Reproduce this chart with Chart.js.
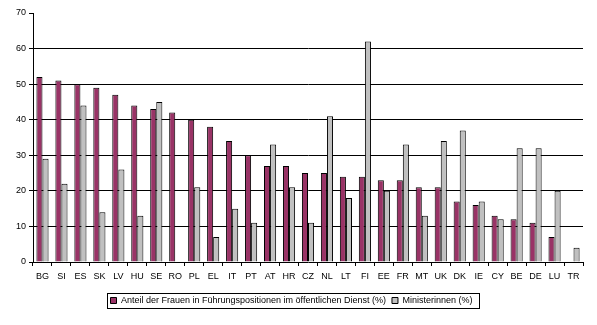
<!DOCTYPE html>
<html lang="de">
<head>
  <meta charset="UTF-8">
  <title>Frauen in Führungspositionen</title>
  <script src="https://cdn.jsdelivr.net/npm/chart.js"></script>
  <style>
    html, body {
      margin: 0;
      padding: 0;
      background: #ffffff;
    }
  </style>
</head>
<body>

<canvas id="womenChart" width="597" height="325"></canvas>

<script>
  const countries = ['BG', 'SI', 'ES', 'SK', 'LV', 'HU', 'SE', 'RO', 'PL', 'EL', 'IT', 'PT', 'AT', 'HR', 'CZ',
    'NL', 'LT', 'FI', 'EE', 'FR', 'MT', 'UK', 'DK', 'IE', 'CY', 'BE', 'DE', 'LU', 'TR'];

  // Anteil der Frauen in Führungspositionen im öffentlichen Dienst (%)
  const publicService = [52, 51, 50, 49, 47, 44, 43, 42, 40, 38, 34, 30, 27, 27, 25,
    25, 24, 24, 23, 23, 21, 21, 17, 16, 13, 12, 11, 7, null];

  // Ministerinnen (%)
  const ministers = [29, 22, 44, 14, 26, 13, 45, null, 21, 7, 15, 11, 33, 21, 11,
    41, 18, 62, 20, 33, 13, 34, 37, 17, 12, 32, 32, 20, 4];

  const yTicks = [0, 10, 20, 30, 40, 50, 60, 70];

  const FONT = { family: 'Arial, "Liberation Sans", sans-serif', size: 9 };

  // thin black frame around the legend entries
  const legendFrame = {
    id: 'legendFrame',
    afterDraw(chart) {
      const boxes = chart.legend && chart.legend.legendHitBoxes;
      if (!boxes || !boxes.length) return;
      let left = Infinity, right = -Infinity, top = Infinity, bottom = -Infinity;
      boxes.forEach(b => {
        left = Math.min(left, b.left);
        right = Math.max(right, b.left + b.width);
        top = Math.min(top, b.top);
        bottom = Math.max(bottom, b.top + b.height);
      });
      const ctx = chart.ctx;
      ctx.save();
      ctx.strokeStyle = '#000';
      ctx.lineWidth = 1;
      ctx.strokeRect(Math.round(left - 4) + 0.5, Math.round(top - 3) + 0.5,
        Math.round(right - left + 10), Math.round(bottom - top + 6));
      ctx.restore();
    }
  };

  new Chart(document.getElementById('womenChart').getContext('2d'), {
    type: 'bar',
    data: {
      labels: countries,
      datasets: [
        {
          label: 'Anteil der Frauen in Führungspositionen im öffentlichen Dienst (%)',
          data: publicService,
          backgroundColor: '#993366',
          borderColor: '#000000',
          borderWidth: 1,
          categoryPercentage: 0.64,
          barPercentage: 1.0
        },
        {
          label: 'Ministerinnen (%)',
          data: ministers,
          backgroundColor: '#c0c0c0',
          borderColor: '#000000',
          borderWidth: 1,
          categoryPercentage: 0.64,
          barPercentage: 1.0
        }
      ]
    },
    options: {
      responsive: false,
      maintainAspectRatio: false,
      animation: false,
      devicePixelRatio: 1,
      layout: {
        padding: { left: 0, right: 14, top: 13, bottom: 10 }
      },
      plugins: {
        tooltip: { enabled: false },
        legend: {
          position: 'bottom',
          labels: {
            color: '#000',
            font: FONT,
            boxWidth: 6,
            boxHeight: 6,
            padding: 6
          }
        }
      },
      scales: {
        x: {
          offset: true,
          afterFit(scale) { scale.height = 28; },
          border: { color: '#000', width: 1 },
          grid: {
            offset: true,
            drawOnChartArea: false,
            drawTicks: true,
            tickLength: 4,
            tickColor: '#000'
          },
          ticks: {
            color: '#000',
            font: FONT,
            maxRotation: 0,
            autoSkip: false,
            padding: 5
          }
        },
        y: {
          min: 0,
          max: 70,
          afterFit(scale) { scale.width = 33; },
          afterBuildTicks(scale) { scale.ticks = yTicks.map(v => ({ value: v })); },
          border: { color: '#000', width: 1 },
          grid: {
            color: ctx => (ctx.tick && (ctx.tick.value === 70 || ctx.tick.value === 0)) ? 'rgba(0,0,0,0)' : '#000',
            tickColor: '#000',
            drawTicks: true,
            tickLength: 4
          },
          ticks: {
            color: '#000',
            font: FONT,
            padding: 3
          }
        }
      }
    },
    plugins: [legendFrame]
  });
</script>

</body>
</html>
